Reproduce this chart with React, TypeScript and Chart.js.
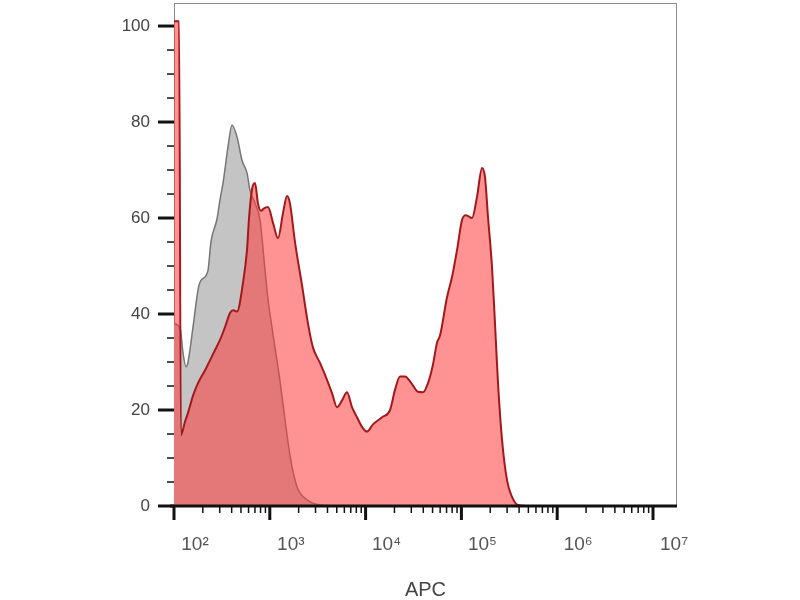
import { useEffect, useRef } from "react"
import { Chart, registerables, type ChartConfiguration } from "chart.js"

Chart.register(...registerables)

// APC channel values (log scale) and % of max for the isotype control (gray)
const grayX = [100, 116, 124, 133.5, 140, 158, 178, 191, 226, 243, 281, 302, 325, 366, 403, 455, 513, 578, 621, 701, 790, 891, 958, 1005, 1133, 1278, 1441, 1625, 1922, 2445, 3342, 5405]
const grayY = [38, 37, 32, 29, 30, 37.3, 45, 47, 49, 55, 59.8, 63.8, 67.3, 74.8, 79.4, 76.9, 72, 69.4, 65.8, 63.1, 59.6, 49.2, 43, 40, 33, 26, 18, 10.5, 4, 1.3, 0.2, 0]

// stained sample (red)
const redX = [100, 113, 118, 130, 140, 158, 178, 211, 238, 268, 302, 341, 384, 415, 455, 525, 578, 607, 652, 701, 753, 810, 870, 958, 1080, 1218, 1373, 1512, 1625, 1832, 2168, 2504, 2824, 3342, 3955, 4461, 5029, 5671, 6395, 7211, 8132, 9171, 10342, 11946, 14834, 17977, 20271, 22861, 25776, 30497, 35237, 39730, 44806, 50516, 55638, 59797, 70744, 79801, 89988, 101460, 111690, 128990, 145470, 164060, 176290, 189560, 208640, 224230, 240990, 265400, 299200, 337450, 389800, 520000, 17800000]
const redY = [101, 101, 14.8, 17.5, 19.4, 23, 25.6, 28.3, 30.4, 32.5, 34.6, 37.3, 40.2, 40.8, 40.5, 46.5, 53.3, 60, 66, 67.3, 63, 61.5, 62, 62.3, 59, 55.8, 61, 64.6, 63, 55, 46, 38, 33, 29.8, 26.3, 23.5, 20.6, 22, 23.7, 20.6, 18.5, 16.5, 15.5, 17, 18.5, 20, 24.2, 27, 27, 25.4, 23.8, 23.7, 25.6, 29.5, 34, 35.5, 43.5, 47.7, 53.3, 59.6, 60.6, 60, 64.4, 70.4, 68.5, 60.2, 49.8, 38, 25.6, 13.8, 5.4, 1.9, 0.2, 0, 0]

const xDecades = [2, 3, 4, 5, 6, 7]
const xTickLabels = ["10²", "10³", "10⁴", "10⁵", "10⁶", "10⁷"]
const yTickLabels = ["0", "20", "40", "60", "80", "100"]

const isDecade = (v: number) => Math.abs(Math.log10(v) - Math.round(Math.log10(v))) < 1e-9

const axisMarks = {
  id: "axisMarks",
  beforeDatasetsDraw(chart: Chart) {
    const { ctx, chartArea: a } = chart
    ctx.save()
    ctx.strokeStyle = "#8a8a8a"
    ctx.lineWidth = 1
    ctx.strokeRect(a.left + 0.5, a.top + 0.5, a.right - a.left - 1, a.bottom - a.top)
    ctx.restore()
  },
  afterDraw(chart: Chart) {
    const { ctx, chartArea: a, scales } = chart
    ctx.save()
    ctx.strokeStyle = "#111"
    ctx.lineWidth = 3
    ctx.beginPath()
    ctx.moveTo(a.left - 4, a.bottom)
    ctx.lineTo(a.right, a.bottom)
    ctx.stroke()

    for (const t of scales.x.ticks) {
      const px = scales.x.getPixelForValue(t.value)
      const major = isDecade(t.value)
      ctx.lineWidth = major ? 3 : 1.5
      ctx.beginPath()
      ctx.moveTo(px, a.bottom)
      ctx.lineTo(px, a.bottom + (major ? 14 : 7))
      ctx.stroke()
    }
    for (const t of scales.y.ticks) {
      if (t.value % 5 !== 0) continue
      const py = scales.y.getPixelForValue(t.value)
      const major = t.value % 20 === 0
      ctx.lineWidth = major ? 3 : 1.5
      ctx.beginPath()
      ctx.moveTo(a.left, py)
      ctx.lineTo(a.left - (major ? 16 : 7), py)
      ctx.stroke()
    }
    ctx.restore()
  },
}

function Histogram() {
  const canvasRef = useRef<HTMLCanvasElement>(null)
  const chartRef = useRef<Chart | null>(null)

  useEffect(() => {
    if (!canvasRef.current) return
    const ctx = canvasRef.current.getContext("2d")
    if (!ctx) return

    if (chartRef.current) chartRef.current.destroy()

    const config: ChartConfiguration<"line"> = {
      type: "line",
      data: {
        datasets: [
          {
            label: "APC",
            data: redX.map((x, i) => ({ x, y: redY[i] })),
            borderColor: "#a3191b",
            borderWidth: 2,
            backgroundColor: "rgba(255, 56, 56, 0.55)",
            fill: "origin",
            pointRadius: 0,
            cubicInterpolationMode: "monotone",
          },
          {
            label: "Control",
            data: grayX.map((x, i) => ({ x, y: grayY[i] })),
            borderColor: "#767676",
            borderWidth: 1.5,
            backgroundColor: "rgb(196, 196, 196)",
            fill: "origin",
            pointRadius: 0,
            cubicInterpolationMode: "monotone",
          },
        ],
      },
      options: {
        responsive: false,
        animation: false,
        layout: { padding: { left: 0, top: 3, right: 123, bottom: 0 } },
        scales: {
          x: {
            type: "logarithmic",
            min: 100,
            max: 17800000,
            grid: { display: false, drawTicks: false },
            border: { display: false },
            afterBuildTicks: (scale) => {
              const ticks: { value: number }[] = []
              xDecades.forEach((d) => {
                for (let k = 1; k <= 9; k++) {
                  const v = k * Math.pow(10, d)
                  if (v <= scale.max) ticks.push({ value: v })
                }
              })
              scale.ticks = ticks
            },
            afterFit: (scale) => {
              scale.height = 94
              scale.paddingLeft = 0
              scale.paddingRight = 0
              scale.paddingTop = 0
              scale.paddingBottom = 0
            },
            ticks: {
              autoSkip: false,
              maxRotation: 0,
              padding: 27,
              labelOffset: 21,
              color: "#555",
              font: { family: "'Liberation Sans', 'DejaVu Sans', sans-serif", size: 19 },
              callback: (value) => {
                const v = Number(value)
                return isDecade(v) ? xTickLabels[xDecades.indexOf(Math.round(Math.log10(v)))] : ""
              },
            },
            title: {
              display: true,
              text: "APC",
              color: "#444",
              padding: { top: 0, bottom: 0 },
              font: { family: "'Liberation Sans', sans-serif", size: 20, lineHeight: 1 },
            },
          },
          y: {
            min: 0,
            max: 104.8,
            grid: { display: false, drawTicks: false },
            border: { display: false },
            afterFit: (scale) => {
              scale.width = 174
              scale.paddingLeft = 0
              scale.paddingRight = 0
              scale.paddingTop = 0
              scale.paddingBottom = 0
            },
            ticks: {
              stepSize: 5,
              autoSkip: false,
              padding: 24,
              color: "#444",
              font: { family: "'Liberation Sans', sans-serif", size: 17 },
              callback: (value) => {
                const v = Number(value)
                return v % 20 === 0 ? yTickLabels[v / 20] : ""
              },
            },
          },
        },
        plugins: {
          legend: { display: false },
          tooltip: { enabled: false },
        },
      },
      plugins: [axisMarks],
    }

    chartRef.current = new Chart(ctx, config)

    return () => {
      if (chartRef.current) {
        chartRef.current.destroy()
        chartRef.current = null
      }
    }
  }, [])

  return <canvas ref={canvasRef} width={800} height={600} />
}

export default function App() {
  return (
    <div style={{ position: "absolute", left: 0, top: 0, width: 800, height: 600, background: "#fff" }}>
      <Histogram />
    </div>
  )
}
